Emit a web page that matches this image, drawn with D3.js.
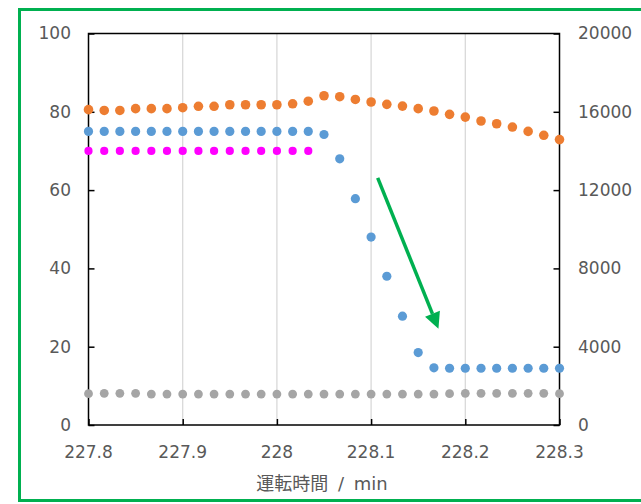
<!DOCTYPE html>
<html><head><meta charset="utf-8">
<script src="https://cdn.jsdelivr.net/npm/d3@7"></script>
<style>body{margin:0;background:#fff;} svg{display:block;}</style>
</head><body>
<svg id="c" width="641" height="504"></svg>
<script>
const times = [227.8, 227.8167, 227.8333, 227.85, 227.8667, 227.8833, 227.9, 227.9167, 227.9333, 227.95, 227.9667, 227.9833, 228.0, 228.0167, 228.0333, 228.05, 228.0667, 228.0833, 228.1, 228.1167, 228.1333, 228.15, 228.1667, 228.1833, 228.2, 228.2167, 228.2333, 228.25, 228.2667, 228.2833, 228.3];
const blueValues = [75,75,75,75,75,75,75,75,75,75,75,75,75,75,75,74.2,68,57.8,48,38,27.8,18.5,14.6,14.5,14.5,14.5,14.5,14.5,14.5,14.5,14.5];
const magentaValues = [70,70,70,70,70,70,70,70,70,70,70,70,70,70,70];
const orangeValues = [16110,16070,16070,16160,16160,16160,16210,16280,16280,16360,16360,16360,16360,16410,16540,16820,16770,16630,16500,16380,16290,16160,16040,15870,15730,15530,15390,15220,15000,14800,14580];
const grayValues = [8.0,8.1,8.1,8.1,7.9,7.9,7.9,7.9,7.9,7.9,7.9,7.9,7.9,7.9,7.9,7.9,7.9,7.9,7.9,7.9,7.9,7.9,7.9,8.0,8.1,8.1,8.1,8.1,8.1,8.1,8.0];
const xTicks = [227.8, 227.9, 228, 228.1, 228.2, 228.3];
const leftTicks = [0, 20, 40, 60, 80, 100];
const rightTicks = [0, 4000, 8000, 12000, 16000, 20000];
const arrow = {x1: 228.107, y1: 63.1, x2: 228.1715, y2: 24.6};
const xTitle = "運転時間 / min";

const svg = d3.select("#c");
const L = 88.5, R = 559.5, T = 33.5, B = 425;
const x = d3.scaleLinear().domain([227.8, 228.3]).range([L, R]);
const yL = d3.scaleLinear().domain([0, 100]).range([B, T]);
const yR = d3.scaleLinear().domain([0, 20000]).range([B, T]);
const font = "'DejaVu Sans', Verdana, sans-serif";
const txt = "#595959";

// outer green frame
svg.append("rect").attr("x", 19.5).attr("y", 9.5).attr("width", 660).attr("height", 491)
  .attr("fill", "none").attr("stroke", "#00B050").attr("stroke-width", 3);

// vertical gridlines
svg.append("g").selectAll("line").data(xTicks.slice(1, -1)).join("line")
  .attr("x1", d => x(d)).attr("x2", d => x(d)).attr("y1", T).attr("y2", B)
  .attr("stroke", "#D9D9D9").attr("stroke-width", 1.3);

// axes with inward ticks
const gx = svg.append("g").attr("transform", `translate(0,${B})`)
  .call(d3.axisTop(x).tickValues(xTicks).tickSize(6).tickFormat(""));
const gl = svg.append("g").attr("transform", `translate(${L},0)`)
  .call(d3.axisRight(yL).tickValues(leftTicks).tickSize(6).tickFormat(""));
const gr = svg.append("g").attr("transform", `translate(${R},0)`)
  .call(d3.axisLeft(yR).tickValues(rightTicks).tickSize(6).tickFormat(""));
[gx, gl, gr].forEach(g => {
  g.select(".domain").remove();
  g.selectAll("line").attr("stroke", "#000").attr("stroke-width", 1.5);
});
// plot border
svg.append("rect").attr("x", L).attr("y", T).attr("width", R - L).attr("height", B - T)
  .attr("fill", "none").attr("stroke", "#000").attr("stroke-width", 1.5);

// tick labels
svg.append("g").selectAll("text").data(xTicks).join("text")
  .attr("x", d => x(d)).attr("y", 452).attr("dy", "0.35em").attr("text-anchor", "middle")
  .attr("font-family", font).attr("font-size", 17).attr("fill", txt).text(d => d3.format("")(d));
svg.append("g").selectAll("text").data(leftTicks).join("text")
  .attr("x", 71).attr("y", d => yL(d)).attr("dy", "0.35em").attr("text-anchor", "end")
  .attr("font-family", font).attr("font-size", 17).attr("fill", txt).text(d => d);
svg.append("g").selectAll("text").data(rightTicks).join("text")
  .attr("x", 578).attr("y", d => yR(d)).attr("dy", "0.35em").attr("text-anchor", "start")
  .attr("font-family", font).attr("font-size", 17).attr("fill", txt).text(d => d);
svg.append("text").attr("x", 322).attr("y", 484).attr("dy", "0.35em").attr("text-anchor", "middle")
  .attr("font-family", "'DejaVu Sans', 'Noto Sans CJK JP', sans-serif").attr("font-size", 18)
  .attr("word-spacing", 4).attr("fill", txt).text(xTitle);

// series
function dots(vals, scale, color, r) {
  svg.append("g").selectAll("circle").data(vals).join("circle")
    .attr("cx", (d, i) => x(times[i])).attr("cy", d => scale(d)).attr("r", r).attr("fill", color);
}
dots(grayValues, yL, "#A5A5A5", 4.4);
dots(orangeValues, yR, "#ED7D31", 4.8);
dots(blueValues, yL, "#5B9BD5", 4.6);
dots(magentaValues, yL, "#FF00FF", 4.1);

// annotation arrow
const ax1 = x(arrow.x1), ay1 = yL(arrow.y1), ax2 = x(arrow.x2), ay2 = yL(arrow.y2);
const ang = Math.atan2(ay2 - ay1, ax2 - ax1);
const hl = 16, hw = 8;
const bx = ax2 - hl * Math.cos(ang), by = ay2 - hl * Math.sin(ang);
svg.append("line").attr("x1", ax1).attr("y1", ay1).attr("x2", bx).attr("y2", by)
  .attr("stroke", "#00B050").attr("stroke-width", 3.5);
svg.append("path").attr("d", d3.line()([
  [ax2, ay2],
  [bx + hw * Math.sin(ang), by - hw * Math.cos(ang)],
  [bx - hw * Math.sin(ang), by + hw * Math.cos(ang)]
]) + "Z").attr("fill", "#00B050");
</script>
</body></html>
